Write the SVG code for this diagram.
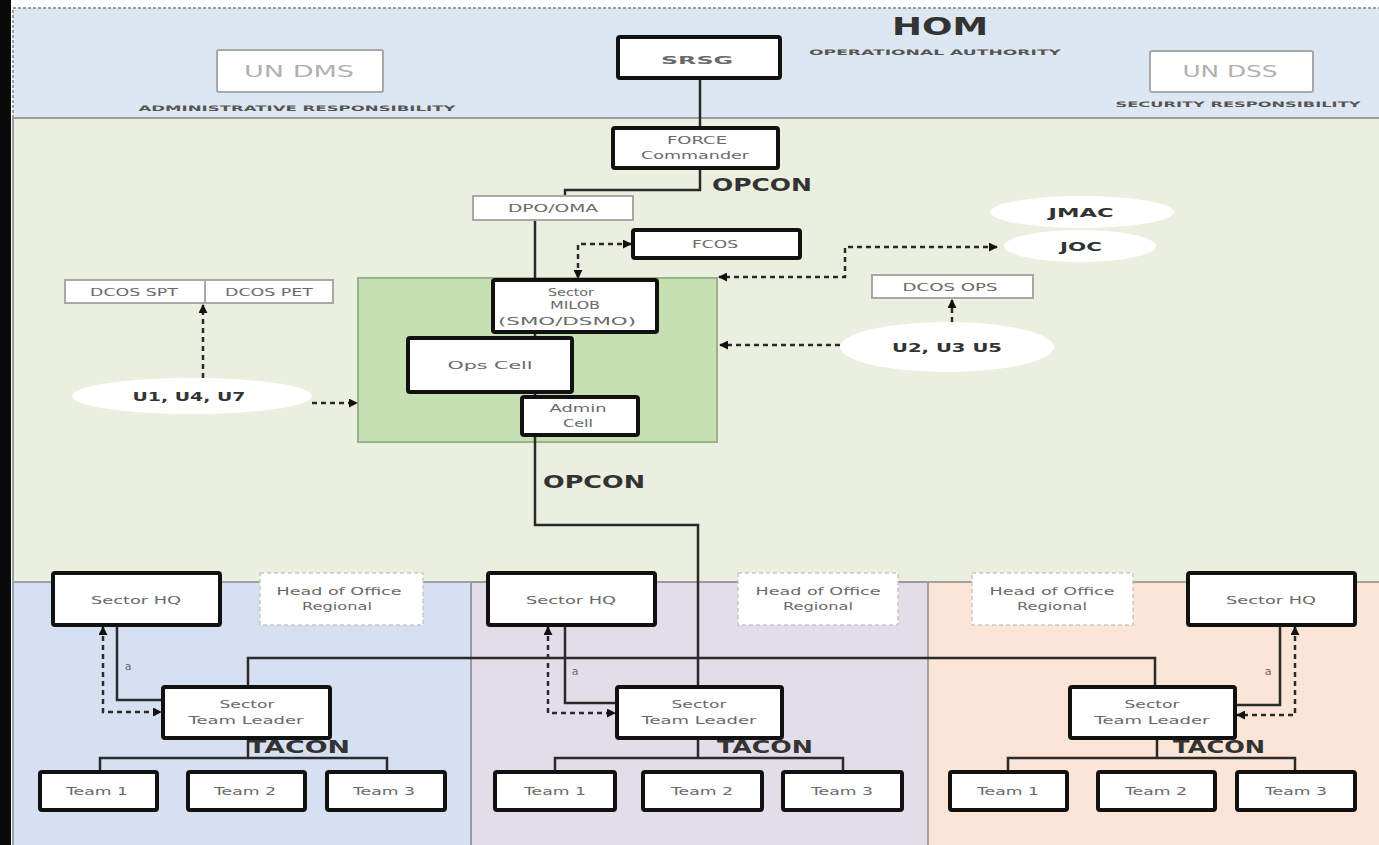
<svg xmlns="http://www.w3.org/2000/svg" width="1379" height="845" viewBox="0 0 1379 845">
<defs>
<marker id="ah" viewBox="0 0 10 10" refX="9" refY="5" markerWidth="9" markerHeight="9" markerUnits="userSpaceOnUse" orient="auto-start-reverse"><path d="M0,0 L10,5 L0,10 z" fill="#111"/></marker>
<style>
.band{stroke:#9aa0a0;stroke-width:2}
.nb{fill:#fff;stroke:#111;stroke-width:4}
.gb{fill:#fff;stroke:#a8a8a8;stroke-width:2}
.hb{fill:#fff;stroke:#c8c8c8;stroke-width:1.5;stroke-dasharray:4,3}
.el{fill:#fff;stroke:none}
text{font-family:"DejaVu Sans","Liberation Sans",sans-serif;text-anchor:middle}
.t{font-size:11px;fill:#6a6a6a}
.tg{font-size:16px;fill:#b0b0b0}
.tb{font-weight:bold;fill:#333}
.ts{font-weight:bold;font-size:7.5px;fill:#555}
.c{fill:none;stroke:#2a2a2a;stroke-width:2.5}
.d{fill:none;stroke:#2a2a2a;stroke-width:2.5;stroke-dasharray:5,4}
</style>
</defs>
<rect x="0" y="0" width="1379" height="845" fill="#fdfdfd"/>
<g id="bands">
<rect x="13" y="8" width="1370" height="110" fill="#dde7f2" class="band" stroke-dasharray="3,2"/>
<rect x="13" y="118" width="1370" height="464" fill="#ebefdf" class="band"/>
<rect x="13" y="582" width="458" height="265" fill="#d7e0f0" stroke="#9aa0a8" stroke-width="2"/>
<rect x="471" y="582" width="457" height="265" fill="#e2dde9" stroke="#9a98a4" stroke-width="2"/>
<rect x="928" y="582" width="455" height="265" fill="#fbe5d6" stroke="#a8a09a" stroke-width="2"/>
<rect x="358" y="278" width="359" height="164" fill="#c6e0b4" stroke="#9bb08d" stroke-width="2"/>
<rect x="0" y="0" width="11" height="845" fill="#0a0a0a"/>
</g>
<g id="labels">
<text class="tb" x="940" y="35" font-size="24" textLength="96" lengthAdjust="spacingAndGlyphs">HOM</text>
<text class="ts" x="935" y="55" textLength="252" lengthAdjust="spacingAndGlyphs">OPERATIONAL AUTHORITY</text>
<text class="ts" x="297" y="111" textLength="317" lengthAdjust="spacingAndGlyphs">ADMINISTRATIVE RESPONSIBILITY</text>
<text class="ts" x="1238" y="107" textLength="245" lengthAdjust="spacingAndGlyphs">SECURITY RESPONSIBILITY</text>
<text class="tb" x="762" y="191" font-size="17" textLength="100" lengthAdjust="spacingAndGlyphs">OPCON</text>
<text class="tb" x="594" y="488" font-size="17" textLength="102" lengthAdjust="spacingAndGlyphs">OPCON</text>
<text class="tb" x="299" y="753" font-size="17" textLength="102" lengthAdjust="spacingAndGlyphs">TACON</text>
<text class="tb" x="765" y="753" font-size="17" textLength="96" lengthAdjust="spacingAndGlyphs">TACON</text>
<text class="tb" x="1219" y="753" font-size="17" textLength="92" lengthAdjust="spacingAndGlyphs">TACON</text>
<text class="t" x="128" y="670" font-size="8">a</text>
<text class="t" x="575" y="675" font-size="8">a</text>
<text class="t" x="1268" y="675" font-size="8">a</text>
</g>
<g id="connectors">
<path class="c" d="M700,79 V128"/>
<path class="c" d="M700,168 V190 H565 V196"/>
<path class="c" d="M535,220 V280"/>
<path class="d" d="M631,244 H578 V278" marker-start="url(#ah)" marker-end="url(#ah)"/>
<path class="d" d="M997,247 H845 V277 H719" marker-start="url(#ah)" marker-end="url(#ah)"/>
<path class="d" d="M840,345 H720" marker-end="url(#ah)"/>
<path class="d" d="M952,322 V300" marker-end="url(#ah)"/>
<path class="d" d="M203,378 V305" marker-end="url(#ah)"/>
<path class="d" d="M312,403 H357" marker-end="url(#ah)"/>
<path class="c" d="M535,332 V338"/>
<path class="c" d="M535,392 V397"/>
<path class="c" d="M535,435 V525 H698 V687"/>
<path class="c" d="M248,687 V658 H1155 V687"/>
<path class="c" d="M248,738 V758 M100,772 V758 H387 V772"/>
<path class="c" d="M698,738 V758 M555,772 V758 H843 V772"/>
<path class="c" d="M1157,738 V758 M1008,772 V758 H1295 V772"/>
<path class="c" d="M117,625 V700 H163"/>
<path class="d" d="M103,627 V712 H161" marker-start="url(#ah)" marker-end="url(#ah)"/>
<path class="c" d="M565,625 V703 H617"/>
<path class="d" d="M548,627 V713 H615" marker-start="url(#ah)" marker-end="url(#ah)"/>
<path class="c" d="M1280,625 V705 H1235"/>
<path class="d" d="M1295,627 V715 H1237" marker-start="url(#ah)" marker-end="url(#ah)"/>
</g>
<g id="srsg"><rect class="nb" x="618" y="37" width="162" height="41" rx="2"/><text class="t" x="697" y="64" font-size="16" font-weight="bold" textLength="72" lengthAdjust="spacingAndGlyphs">SRSG</text></g>
<g id="undms"><rect class="gb" x="217" y="50" width="166" height="42" rx="2"/><text class="tg" x="299" y="77" textLength="110" lengthAdjust="spacingAndGlyphs">UN DMS</text></g>
<g id="undss"><rect class="gb" x="1150" y="51" width="163" height="41" rx="2"/><text class="tg" x="1230" y="77" textLength="95" lengthAdjust="spacingAndGlyphs">UN DSS</text></g>
<g id="force"><rect class="nb" x="613" y="128" width="165" height="40" rx="2"/><text class="t" x="697" y="144" textLength="60" lengthAdjust="spacingAndGlyphs">FORCE</text><text class="t" x="695" y="159" textLength="108" lengthAdjust="spacingAndGlyphs">Commander</text></g>
<g id="dpo"><rect class="gb" x="473" y="196" width="160" height="24"/><text class="t" x="553" y="212" textLength="90" lengthAdjust="spacingAndGlyphs">DPO/OMA</text></g>
<g id="fcos"><rect class="nb" x="633" y="230" width="167" height="28" rx="2"/><text class="t" x="715" y="248" textLength="46" lengthAdjust="spacingAndGlyphs">FCOS</text></g>
<g id="jmac"><ellipse class="el" cx="1082" cy="212" rx="92" ry="16"/><text class="tb" x="1081" y="217" font-size="13" textLength="65" lengthAdjust="spacingAndGlyphs">JMAC</text></g>
<g id="joc"><ellipse class="el" cx="1080" cy="246" rx="76" ry="16"/><text class="tb" x="1081" y="251" font-size="13" textLength="42" lengthAdjust="spacingAndGlyphs">JOC</text></g>
<g id="dcosops"><rect class="gb" x="872" y="275" width="161" height="23"/><text class="t" x="950" y="291" textLength="95" lengthAdjust="spacingAndGlyphs">DCOS OPS</text></g>
<g id="u235"><ellipse class="el" cx="947" cy="347" rx="107" ry="25"/><text class="tb" x="947" y="352" font-size="13" textLength="110" lengthAdjust="spacingAndGlyphs">U2, U3  U5</text></g>
<g id="dcosspt"><rect class="gb" x="65" y="280" width="140" height="23"/><text class="t" x="134" y="296" textLength="88" lengthAdjust="spacingAndGlyphs">DCOS SPT</text></g>
<g id="dcospet"><rect class="gb" x="205" y="280" width="128" height="23"/><text class="t" x="269" y="296" textLength="88" lengthAdjust="spacingAndGlyphs">DCOS PET</text></g>
<g id="u147"><ellipse class="el" cx="192" cy="396" rx="120" ry="18"/><text class="tb" x="189" y="401" font-size="12" textLength="113" lengthAdjust="spacingAndGlyphs">U1, U4, U7</text></g>
<g id="milob"><rect class="nb" x="493" y="280" width="164" height="52" rx="2"/><text class="t" x="571" y="296" textLength="46" lengthAdjust="spacingAndGlyphs">Sector</text><text class="t" x="575" y="309" textLength="50" lengthAdjust="spacingAndGlyphs">MILOB</text><text class="t" x="567" y="325" textLength="138" lengthAdjust="spacingAndGlyphs">(SMO/DSMO)</text></g>
<g id="ops"><rect class="nb" x="408" y="338" width="164" height="54" rx="2"/><text class="t" x="490" y="369" textLength="85" lengthAdjust="spacingAndGlyphs">Ops Cell</text></g>
<g id="admin"><rect class="nb" x="522" y="397" width="116" height="38" rx="2"/><text class="t" x="578" y="412" textLength="57" lengthAdjust="spacingAndGlyphs">Admin</text><text class="t" x="578" y="427" textLength="30" lengthAdjust="spacingAndGlyphs">Cell</text></g>
<g id="hq1"><rect class="nb" x="53" y="573" width="167" height="52" rx="2"/><text class="t" x="136" y="604" textLength="90" lengthAdjust="spacingAndGlyphs">Sector HQ</text></g>
<g id="ho1"><rect class="hb" x="260" y="573" width="163" height="52"/><text class="t" x="339" y="595" textLength="125" lengthAdjust="spacingAndGlyphs">Head of Office</text><text class="t" x="337" y="610" textLength="70" lengthAdjust="spacingAndGlyphs">Regional</text></g>
<g id="tl1"><rect class="nb" x="163" y="687" width="167" height="51" rx="2"/><text class="t" x="247" y="708" textLength="55" lengthAdjust="spacingAndGlyphs">Sector</text><text class="t" x="246" y="724" textLength="115" lengthAdjust="spacingAndGlyphs">Team Leader</text></g>
<g id="t11"><rect class="nb" x="40" y="772" width="117" height="38" rx="2"/><text class="t" x="97" y="795" textLength="62" lengthAdjust="spacingAndGlyphs">Team 1</text></g>
<g id="t12"><rect class="nb" x="188" y="772" width="117" height="38" rx="2"/><text class="t" x="245" y="795" textLength="62" lengthAdjust="spacingAndGlyphs">Team 2</text></g>
<g id="t13"><rect class="nb" x="327" y="772" width="118" height="38" rx="2"/><text class="t" x="384" y="795" textLength="62" lengthAdjust="spacingAndGlyphs">Team 3</text></g>
<g id="hq2"><rect class="nb" x="488" y="573" width="167" height="52" rx="2"/><text class="t" x="571" y="604" textLength="90" lengthAdjust="spacingAndGlyphs">Sector HQ</text></g>
<g id="ho2"><rect class="hb" x="738" y="573" width="160" height="52"/><text class="t" x="818" y="595" textLength="125" lengthAdjust="spacingAndGlyphs">Head of Office</text><text class="t" x="818" y="610" textLength="70" lengthAdjust="spacingAndGlyphs">Regional</text></g>
<g id="tl2"><rect class="nb" x="617" y="687" width="165" height="51" rx="2"/><text class="t" x="699" y="708" textLength="55" lengthAdjust="spacingAndGlyphs">Sector</text><text class="t" x="699" y="724" textLength="115" lengthAdjust="spacingAndGlyphs">Team Leader</text></g>
<g id="t21"><rect class="nb" x="495" y="772" width="120" height="38" rx="2"/><text class="t" x="555" y="795" textLength="62" lengthAdjust="spacingAndGlyphs">Team 1</text></g>
<g id="t22"><rect class="nb" x="643" y="772" width="119" height="38" rx="2"/><text class="t" x="702" y="795" textLength="62" lengthAdjust="spacingAndGlyphs">Team 2</text></g>
<g id="t23"><rect class="nb" x="783" y="772" width="119" height="38" rx="2"/><text class="t" x="842" y="795" textLength="62" lengthAdjust="spacingAndGlyphs">Team 3</text></g>
<g id="ho3"><rect class="hb" x="972" y="573" width="161" height="52"/><text class="t" x="1052" y="595" textLength="125" lengthAdjust="spacingAndGlyphs">Head of Office</text><text class="t" x="1052" y="610" textLength="70" lengthAdjust="spacingAndGlyphs">Regional</text></g>
<g id="hq3"><rect class="nb" x="1188" y="573" width="167" height="52" rx="2"/><text class="t" x="1271" y="604" textLength="90" lengthAdjust="spacingAndGlyphs">Sector HQ</text></g>
<g id="tl3"><rect class="nb" x="1070" y="687" width="165" height="51" rx="2"/><text class="t" x="1152" y="708" textLength="55" lengthAdjust="spacingAndGlyphs">Sector</text><text class="t" x="1152" y="724" textLength="115" lengthAdjust="spacingAndGlyphs">Team Leader</text></g>
<g id="t31"><rect class="nb" x="950" y="772" width="117" height="38" rx="2"/><text class="t" x="1008" y="795" textLength="62" lengthAdjust="spacingAndGlyphs">Team 1</text></g>
<g id="t32"><rect class="nb" x="1098" y="772" width="117" height="38" rx="2"/><text class="t" x="1156" y="795" textLength="62" lengthAdjust="spacingAndGlyphs">Team 2</text></g>
<g id="t33"><rect class="nb" x="1237" y="772" width="118" height="38" rx="2"/><text class="t" x="1296" y="795" textLength="62" lengthAdjust="spacingAndGlyphs">Team 3</text></g>
</svg>
